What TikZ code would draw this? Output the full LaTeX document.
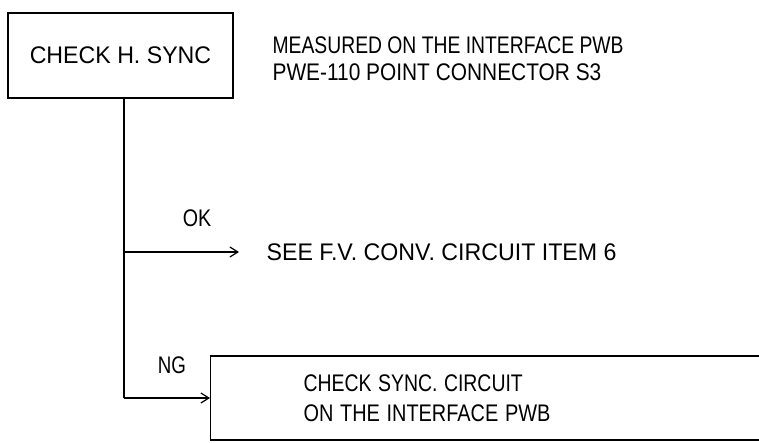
\documentclass[tikz,border=0pt]{standalone}
\usepackage{fontspec}
\setmainfont{Liberation Sans}
\usetikzlibrary{arrows.meta}
\newcommand{\xs}[2]{\scalebox{#1}[1]{#2}}
\begin{document}
\begin{tikzpicture}[x=1pt,y=1pt, line width=1.2pt,
  txt/.style={font=\fontsize{24}{27}\selectfont, inner sep=0pt},
  boxnode/.style={draw, rectangle, font=\fontsize{24}{27}\selectfont},
  arr/.style={-{Straight Barb[length=8pt,width=10pt]}}]
\useasboundingbox (0,0) rectangle (759,442);
\node[boxnode, minimum width=225pt, minimum height=85pt] (hsync) at (120.5,386.5) {\xs{0.965}{CHECK H. SYNC}};
\node[txt, anchor=west, align=left] (meas) at (272,383.5) {\xs{0.805}{MEASURED ON THE INTERFACE PWB}\\\xs{0.87}{PWE-110 POINT CONNECTOR S3}};
\node[txt, anchor=west] (see) at (266,190) {\xs{0.966}{SEE F.V. CONV. CIRCUIT ITEM 6}};
\node[boxnode, anchor=west, minimum width=560pt, minimum height=84pt, text width=374pt, inner xsep=93pt, align=left, font=\fontsize{24}{30}\selectfont] (ng) at (210,44) {\xs{0.81}{CHECK SYNC. CIRCUIT}\\\xs{0.83}{ON THE INTERFACE PWB}};
\node[txt] (oklab) at (197,224) {\xs{0.82}{OK}};
\node[txt] (nglab) at (172,77) {\xs{0.78}{NG}};
\coordinate (okpt) at (124,190);
\coordinate (ngpt) at (124,44);
\draw (hsync.south -| okpt) -- (okpt) -- (ngpt);
\draw[arr, shorten >=27pt] (okpt) -- (see.west);
\draw[arr] (ngpt) -- (ng.west);
\end{tikzpicture}
\end{document}
